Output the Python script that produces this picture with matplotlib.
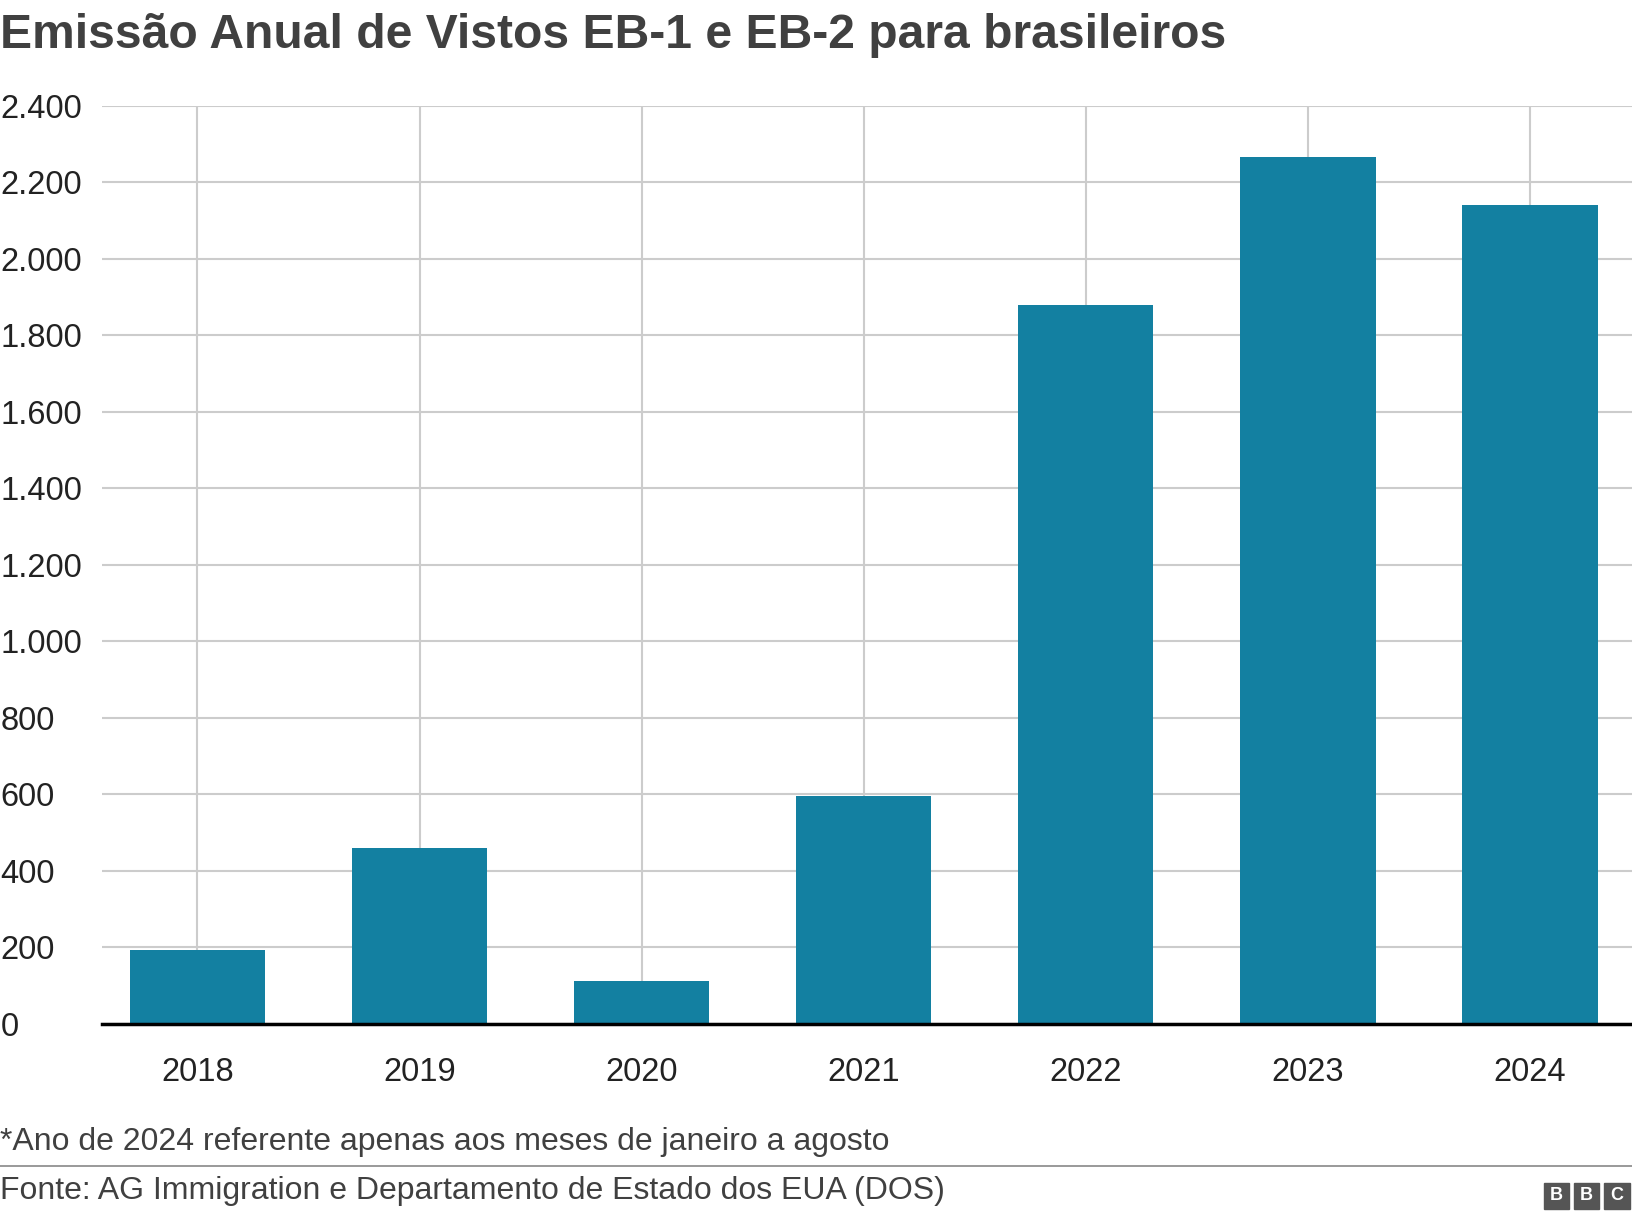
import matplotlib
matplotlib.use("Agg")
import matplotlib.pyplot as plt
from matplotlib.patches import Rectangle

plt.rcParams["font.family"] = "Liberation Sans"

years = ["2018", "2019", "2020", "2021", "2022", "2023", "2024"]
vistos = [193, 459, 111, 595, 1880, 2266, 2141]
y_ticks = [0, 200, 400, 600, 800, 1000, 1200, 1400, 1600, 1800, 2000, 2200, 2400]
y_labels = ["0", "200", "400", "600", "800", "1.000", "1.200", "1.400",
            "1.600", "1.800", "2.000", "2.200", "2.400"]

fig = plt.figure(figsize=(16.32, 12.22), dpi=100)
ax = fig.add_axes([0.0625, 0.1624, 0.9375, 0.7509])

x = range(len(years))
ax.bar(x, vistos, width=0.61, color="#1380A1", zorder=3)
ax.set_xlim(-0.43, 6.46)
ax.set_ylim(0, 2400)
ax.set_yticks(y_ticks)
ax.set_yticklabels(y_labels)
ax.set_xticks(list(x))
ax.set_xticklabels(years)
ax.grid(True, color="#cccccc", lw=1.5, zorder=0)
for s in ["top", "right", "left"]:
    ax.spines[s].set_visible(False)
ax.spines["bottom"].set_linewidth(2.5)
ax.spines["bottom"].set_zorder(4)
ax.tick_params(axis="both", length=0, labelsize=23.5, colors="#222222")
ax.tick_params(axis="x", pad=24)
for lbl in ax.get_yticklabels():
    lbl.set_horizontalalignment("left")
ax.tick_params(axis="y", pad=73)

fig.text(0.0, 0.971, "Emissão Anual de Vistos EB-1 e EB-2 para brasileiros",
         fontsize=34.6, fontweight="bold", color="#404040", va="center")
fig.text(0.0, 0.0655, "*Ano de 2024 referente apenas aos meses de janeiro a agosto",
         fontsize=23, color="#404040", va="center")
fig.add_artist(plt.Line2D([0, 1], [0.046, 0.046], color="#888888", lw=1.2))
fig.text(0.0, 0.0255, "Fonte: AG Immigration e Departamento de Estado dos EUA (DOS)",
         fontsize=23, color="#404040", va="center")

# BBC logo
for i, ch in enumerate("BBC"):
    x0 = 0.946 + i * 0.0185
    fig.add_artist(Rectangle((x0, 0.011), 0.0155, 0.021, color="#555555",
                             transform=fig.transFigure))
    fig.text(x0 + 0.00775, 0.0215, ch, color="white", fontsize=13,
             fontweight="bold", ha="center", va="center")

fig.savefig("out.png")
